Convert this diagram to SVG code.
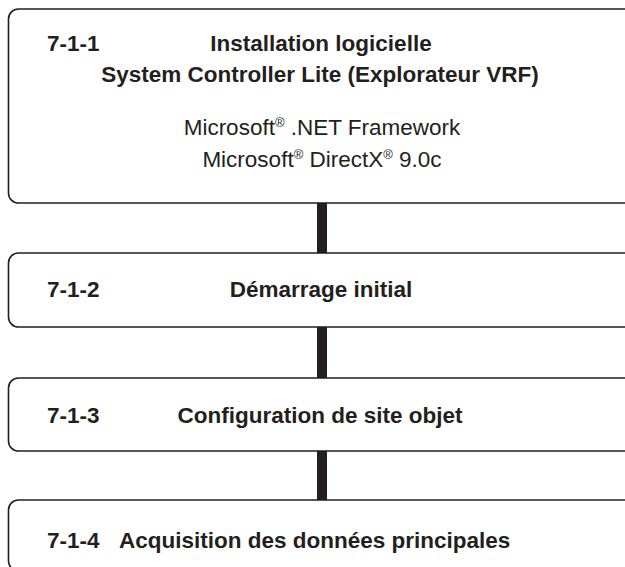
<svg xmlns="http://www.w3.org/2000/svg" width="625" height="567" viewBox="0 0 625 567">
<style>
.box{fill:#ffffff;stroke:#231f20;stroke-width:1.6}
.t{font-family:"Liberation Sans",Arial,sans-serif;font-size:22.5px;fill:#231f20}
.b{font-weight:bold}
.c{text-anchor:middle}
.sup{font-size:13px}
.conn{fill:#231f20}
</style>
<rect width="625" height="567" fill="#ffffff"/>
<g id="connectors">
<rect class="conn" x="317" y="203" width="10" height="50"/>
<rect class="conn" x="317" y="327" width="10" height="51"/>
<rect class="conn" x="317" y="451" width="10" height="49"/>
</g>
<g id="node1">
<rect class="box" x="8.5" y="9" width="630" height="194" rx="10" ry="10"/>
<text class="t b" x="47" y="51">7-1-1</text>
<text class="t b c" x="321" y="51">Installation logicielle</text>
<text class="t b c" x="320" y="81.5">System Controller Lite (Explorateur VRF)</text>
<text class="t c" x="322" y="135">Microsoft<tspan class="sup" dy="-8">®</tspan><tspan dy="8"> .NET Framework</tspan></text>
<text class="t c" x="322" y="167">Microsoft<tspan class="sup" dy="-8">®</tspan><tspan dy="8"> DirectX</tspan><tspan class="sup" dy="-8">®</tspan><tspan dy="8"> 9.0c</tspan></text>
</g>
<g id="node2">
<rect class="box" x="8.5" y="253" width="630" height="74" rx="10" ry="10"/>
<text class="t b" x="47" y="297">7-1-2</text>
<text class="t b c" x="321" y="297">Démarrage initial</text>
</g>
<g id="node3">
<rect class="box" x="8.5" y="378" width="630" height="73" rx="10" ry="10"/>
<text class="t b" x="47" y="423">7-1-3</text>
<text class="t b c" x="320" y="423">Configuration de site objet</text>
</g>
<g id="node4">
<rect class="box" x="8.5" y="500" width="630" height="71" rx="10" ry="10"/>
<text class="t b" x="47" y="548">7-1-4</text>
<text class="t b" x="119" y="548">Acquisition des données principales</text>
</g>
</svg>
